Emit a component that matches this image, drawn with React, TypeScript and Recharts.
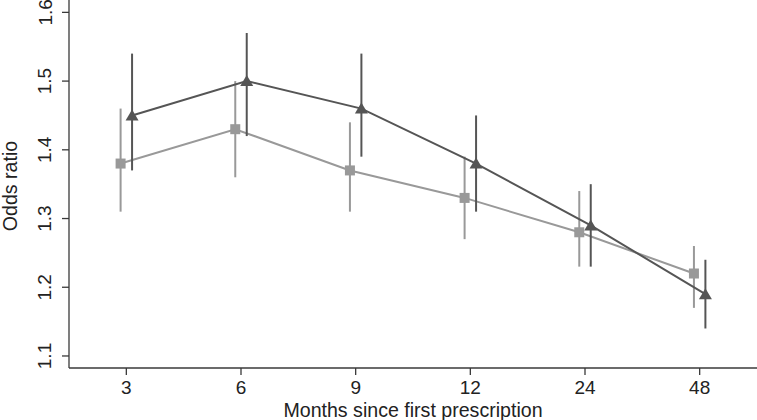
import { LineChart, Line, XAxis, YAxis, ErrorBar, Label } from 'recharts';

// months since first prescription (categorical positions on the x axis)
const months = ['3', '6', '9', '12', '24', '48'];

// light grey series (squares)
const squareOR = [1.38, 1.43, 1.37, 1.33, 1.28, 1.22];
const squareLo = [1.31, 1.36, 1.31, 1.27, 1.23, 1.17];
const squareHi = [1.46, 1.5, 1.44, 1.39, 1.34, 1.26];

// dark grey series (triangles)
const triOR = [1.45, 1.5, 1.46, 1.38, 1.29, 1.19];
const triLo = [1.37, 1.42, 1.39, 1.31, 1.23, 1.14];
const triHi = [1.54, 1.57, 1.54, 1.45, 1.35, 1.24];

const yTicks = [1.1, 1.2, 1.3, 1.4, 1.5, 1.6];

const FONT = "'Liberation Sans', Arial, sans-serif";
const LIGHT = '#999999';
const DARK = '#555555';
const AXIS = '#3a3a3a';
const SHIFT = 0.05; // the two series are dodged a little around each tick

const build = (or: number[], lo: number[], hi: number[], shift: number) =>
  or.map((v, i) => ({ x: i + shift, or: v, err: [v - lo[i], hi[i] - v] }));

const squareData = build(squareOR, squareLo, squareHi, -SHIFT);
const triData = build(triOR, triLo, triHi, SHIFT);

const SquareDot = (props: any) => {
  const { cx, cy } = props;
  if (cx == null || cy == null) return null;
  return <rect x={cx - 5} y={cy - 5} width={10} height={10} fill={LIGHT} />;
};

const TriangleDot = (props: any) => {
  const { cx, cy } = props;
  if (cx == null || cy == null) return null;
  return <polygon points={`${cx},${cy - 6} ${cx - 6.5},${cy + 5} ${cx + 6.5},${cy + 5}`} fill={DARK} />;
};

const XTick = ({ x, y, payload }: any) => (
  <text x={x} y={y + 19} textAnchor="middle" fontSize={19} fontFamily={FONT} fill="#222">
    {months[payload.value]}
  </text>
);

const YTick = ({ x, y, payload }: any) => {
  const bx = x - 10.5;
  return (
    <text x={bx} y={y} transform={`rotate(-90 ${bx} ${y})`} textAnchor="middle" fontSize={19} fontFamily={FONT} fill="#222">
      {payload.value.toFixed(1)}
    </text>
  );
};

export default function App() {
  return (
    <div style={{ position: 'absolute', left: 0, top: 0, width: 757, height: 420, background: '#fff' }}>
      <LineChart width={757} height={420} margin={{ top: 0, right: 0, bottom: 0, left: 0 }}>
        <XAxis
          type="number"
          dataKey="x"
          domain={[-0.5, 5.5]}
          ticks={[0, 1, 2, 3, 4, 5]}
          allowDataOverflow
          height={52}
          tickSize={7}
          tickMargin={0}
          tick={<XTick />}
          stroke={AXIS}
          strokeWidth={1.3}
        >
          <Label
            content={({ viewBox }: any) => (
              <text x={viewBox.x + viewBox.width / 2} y={417} textAnchor="middle" fontSize={19.6} fontFamily={FONT} fill="#222">
                Months since first prescription
              </text>
            )}
          />
        </XAxis>
        <YAxis
          type="number"
          domain={[1.0825, 1.618]}
          ticks={yTicks}
          allowDataOverflow
          width={69}
          tickSize={7}
          tickMargin={0}
          tick={<YTick />}
          stroke={AXIS}
          strokeWidth={1.3}
        >
          <Label
            content={({ viewBox }: any) => {
              const cy = viewBox.y + viewBox.height / 2 + 2;
              return (
                <text x={16.5} y={cy} transform={`rotate(-90 16.5 ${cy})`} textAnchor="middle" fontSize={19.6} fontFamily={FONT} fill="#222">
                  Odds ratio
                </text>
              );
            }}
          />
        </YAxis>
        <Line
          data={squareData}
          dataKey="or"
          stroke={LIGHT}
          strokeWidth={2}
          dot={<SquareDot />}
          activeDot={false}
          isAnimationActive={false}
        >
          <ErrorBar dataKey="err" direction="y" width={0} stroke={LIGHT} strokeWidth={2} />
        </Line>
        <Line
          data={triData}
          dataKey="or"
          stroke={DARK}
          strokeWidth={2}
          dot={<TriangleDot />}
          activeDot={false}
          isAnimationActive={false}
        >
          <ErrorBar dataKey="err" direction="y" width={0} stroke={DARK} strokeWidth={2} />
        </Line>
      </LineChart>
    </div>
  );
}
